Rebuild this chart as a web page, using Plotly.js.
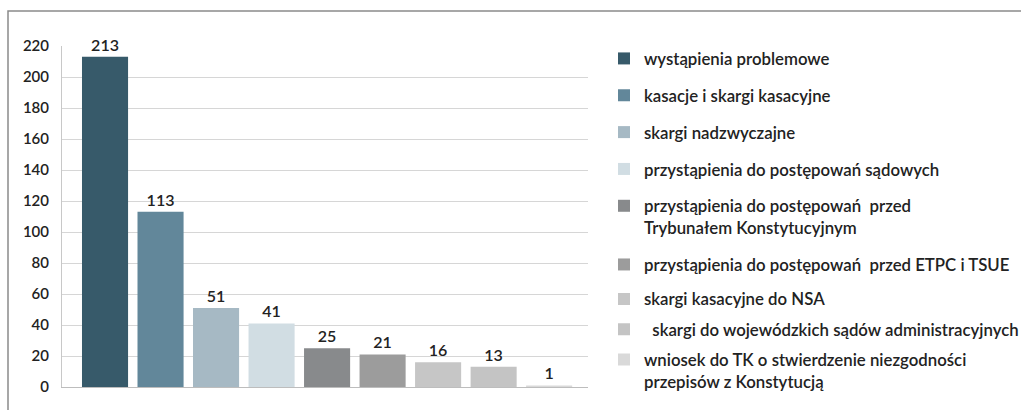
<!DOCTYPE html>
<html>
<head>
<meta charset="utf-8">
<script src="https://cdn.plot.ly/plotly-3.0.1.min.js"></script>
<style>
  html, body { margin: 0; padding: 0; background: #fff; }
  #chart { width: 1021px; height: 410px; }
</style>
</head>
<body>
<div id="chart"></div>
<script>
const categories = [
  "wystąpienia problemowe",
  "kasacje i skargi kasacyjne",
  "skargi nadzwyczajne",
  "przystąpienia do postępowań sądowych",
  "przystąpienia do postępowań&nbsp; przed<br>Trybunałem Konstytucyjnym",
  "przystąpienia do postępowań&nbsp; przed ETPC i TSUE",
  "skargi kasacyjne do NSA",
  "&nbsp;&nbsp;skargi do wojewódzkich sądów administracyjnych",
  "wniosek do TK o stwierdzenie niezgodności<br>przepisów z Konstytucją"
];
const values = [213, 113, 51, 41, 25, 21, 16, 13, 1];
const colors = ["#375A6A", "#62879A", "#A6B9C4", "#D1DDE3", "#888A8C", "#9C9C9C", "#C6C6C6", "#C4C4C4", "#D9D9D9"];
const legendOf = ["legend", "legend", "legend", "legend", "legend", "legend", "legend2", "legend2", "legend2"];
const yTicks = [0, 20, 40, 60, 80, 100, 120, 140, 160, 180, 200, 220];

const FONT = "Lato, 'Open Sans', sans-serif";

const traces = categories.map((name, i) => ({
  type: "bar",
  x: [i],
  y: [values[i]],
  name: name,
  legend: legendOf[i],
  legendgroup: "g" + i,
  marker: { color: colors[i], line: { width: 0 } },
  width: 0.83,
  text: [String(values[i])],
  textposition: "outside",
  cliponaxis: false,
  textfont: { family: FONT, size: 16, color: "#222", weight: 600 },
  hoverinfo: "skip"
}));

const layout = {
  width: 1021,
  height: 410,
  margin: { l: 62, r: 433, t: 46, b: 23, autoexpand: false },
  paper_bgcolor: "#fff",
  plot_bgcolor: "#fff",
  barmode: "overlay",
  font: { family: FONT, size: 14, color: "#222" },
  xaxis: {
    range: [-0.775, 8.7],
    showticklabels: false,
    showgrid: false,
    zeroline: false,
    showline: true,
    linecolor: "#bdbdbd",
    linewidth: 1,
    ticks: ""
  },
  yaxis: {
    range: [0, 220],
    tickvals: yTicks,
    ticktext: yTicks.map(String),
    showgrid: true,
    gridcolor: "#d6d6d6",
    gridwidth: 1,
    zeroline: false,
    showline: true,
    linecolor: "#c8c8c8",
    linewidth: 1,
    ticks: "",
    ticklabelstandoff: 9,
    tickfont: { family: FONT, size: 15, color: "#222", weight: 600 }
  },
  showlegend: true,
  legend: {
    xref: "container", yref: "container",
    x: 604 / 1021, xanchor: "left",
    y: 1 - 41 / 410, yanchor: "top",
    font: { family: FONT, size: 16.8, color: "#222", weight: 600 },
    tracegroupgap: 12,
    valign: "top",
    bgcolor: "rgba(0,0,0,0)",
    traceorder: "grouped",
    maxheight: 1
  },
  legend2: {
    xref: "container", yref: "container",
    x: 604 / 1021, xanchor: "left",
    y: 1 - 281.5 / 410, yanchor: "top",
    font: { family: FONT, size: 16.8, color: "#222", weight: 600 },
    tracegroupgap: 5.5,
    valign: "top",
    bgcolor: "rgba(0,0,0,0)",
    traceorder: "grouped",
    maxheight: 1
  },
  shapes: [
    {
      type: "rect", xref: "paper", yref: "paper",
      x0: -54 / 526, x1: 1.9, y0: -0.2, y1: 1 + 35 / 341,
      line: { color: "#8a8a8a", width: 1.5 },
      fillcolor: "rgba(0,0,0,0)",
      layer: "below"
    }
  ]
};

Plotly.newPlot("chart", traces, layout, { displayModeBar: false, staticPlot: true });
</script>
</body>
</html>
